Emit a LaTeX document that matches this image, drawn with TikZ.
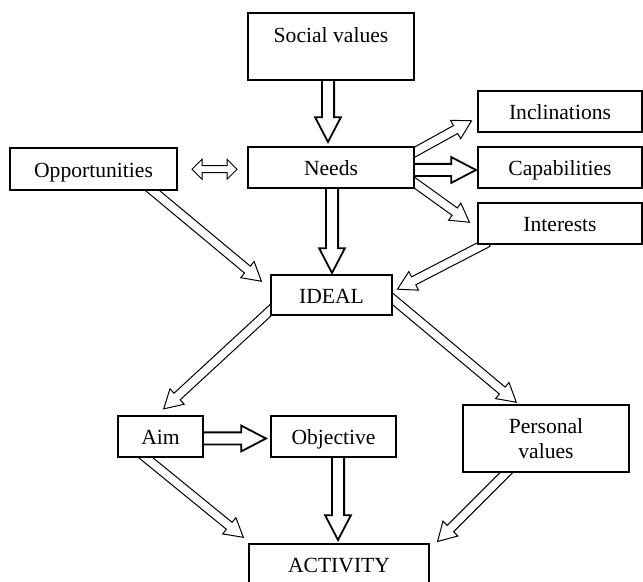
\documentclass[tikz,border=0pt]{standalone}
\usepackage{fontspec}
\setmainfont{Liberation Serif}
\usetikzlibrary{shapes.arrows, calc, backgrounds}

\begin{document}
\begin{tikzpicture}[x=0.5pt, y=-0.5pt,
    box/.style={draw, fill=white, line width=0.9pt, inner sep=0pt, align=center,
        text height=8.5pt, text depth=0pt, font=\fontsize{10.8}{12.5}\selectfont},
    blockarrow/.style={to path={
        let \p1=($(\tikztostart)!-3pt!(\tikztotarget)$), \p2=(\tikztotarget),
            \n1={atan2(\y2-\y1,\x2-\x1)}, \n2={veclen(\x2-\x1,\y2-\y1)}
        in node[single arrow, draw, fill=white, anchor=tail, rotate=\n1,
            minimum height=\n2, minimum width=0pt, #1] at (\p1) {}
    }},
    heavy/.style={line width=0.9pt, inner sep=2.6pt,
        single arrow head extend=3.4pt, single arrow tip angle=55},
    light/.style={line width=0.5pt, inner sep=2pt,
        single arrow head extend=3pt, single arrow tip angle=60}
]
    \useasboundingbox (0,0) rectangle (643,582);

    % Define positions of the nodes
    \node[box, minimum width=83pt, minimum height=33.5pt, text depth=12pt] (social) at (331, 46.5) {Social values};
    \node[box, minimum width=83pt, minimum height=20.5pt] (needs) at (331, 167.5) {Needs};
    \node[box, minimum width=83.5pt, minimum height=21pt] (opportunities) at (93.5, 169) {Opportunities};
    \node[box, minimum width=82pt, minimum height=20.5pt] (inclinations) at (560, 111.5) {Inclinations};
    \node[box, minimum width=82pt, minimum height=20.5pt] (capabilities) at (560, 167.5) {Capabilities};
    \node[box, minimum width=82pt, minimum height=20.5pt] (interests) at (560, 223.5) {Interests};
    \node[box, minimum width=60.5pt, minimum height=20pt] (ideal) at (331.5, 295) {IDEAL};
    \node[box, minimum width=42.5pt, minimum height=20.5pt] (aim) at (160.5, 436.5) {Aim};
    \node[box, minimum width=62.5pt, minimum height=20.5pt] (objective) at (333.5, 436.5) {Objective};
    \node[box, minimum width=83pt, minimum height=33.5pt, text height=20pt] (personal) at (546, 438.5) {Personal\\values};
    \node[box, minimum width=90pt, minimum height=20.5pt] (activity) at (339, 564.5) {ACTIVITY};

    % Hollow arrows between the boxes
    \begin{scope}[on background layer]
    \path ($(social.south)+(-3,0)$) to[blockarrow=heavy] ($(needs.north)+(-3,-5)$);
    \path ($(needs.south)+(1,0)$) to[blockarrow=heavy] ($(ideal.north)+(0.5,-2)$);
    \path ($(needs.east)+(0,-15.5)$) to[blockarrow=light] ($(inclinations.west)+(-6,9.5)$);
    \path ($(needs.east)+(0,2.5)$) to[blockarrow=heavy] ($(capabilities.west)+(-2,2.5)$);
    \path ($(needs.east)+(0,15.5)$) to[blockarrow=light] ($(interests.west)+(-8,-1.5)$);
    \path ($(interests.south west)+(6,0)$) to[blockarrow=light] ($(ideal.east)+(5,-6)$);
    \path ($(opportunities.south east)+(-25,0)$) to[blockarrow=light] ($(ideal.west)+(-9,-14)$);
    \path ($(ideal.south west)+(3,-8)$) to[blockarrow=light] ($(aim.north)+(3.5,-6.5)$);
    \path ($(ideal.east)+(1,5)$) to[blockarrow=light] ($(personal.north west)+(54,-2)$);
    \path ($(aim.east)+(0,2)$) to[blockarrow=heavy] ($(objective.west)+(-5,2)$);
    \path ($(aim.south)+(-14.5,0)$) to[blockarrow=light] ($(activity.north west)+(-5,-6)$);
    \path ($(objective.south)+(4.5,0)$) to[blockarrow=heavy] ($(activity.north)+(-1,-4)$);
    \path ($(personal.south west)+(44,0)$) to[blockarrow=light] ($(activity.north east)+(8,-2)$);
    \end{scope}

    % Two-way arrow
    \node[double arrow, draw, line width=0.5pt, inner sep=1.5pt, minimum height=22.5pt,
        double arrow head extend=3.25pt, double arrow tip angle=90] (link)
        at ($(opportunities.east)!0.5!(needs.west)+(2,1)$) {};
\end{tikzpicture}
\end{document}
